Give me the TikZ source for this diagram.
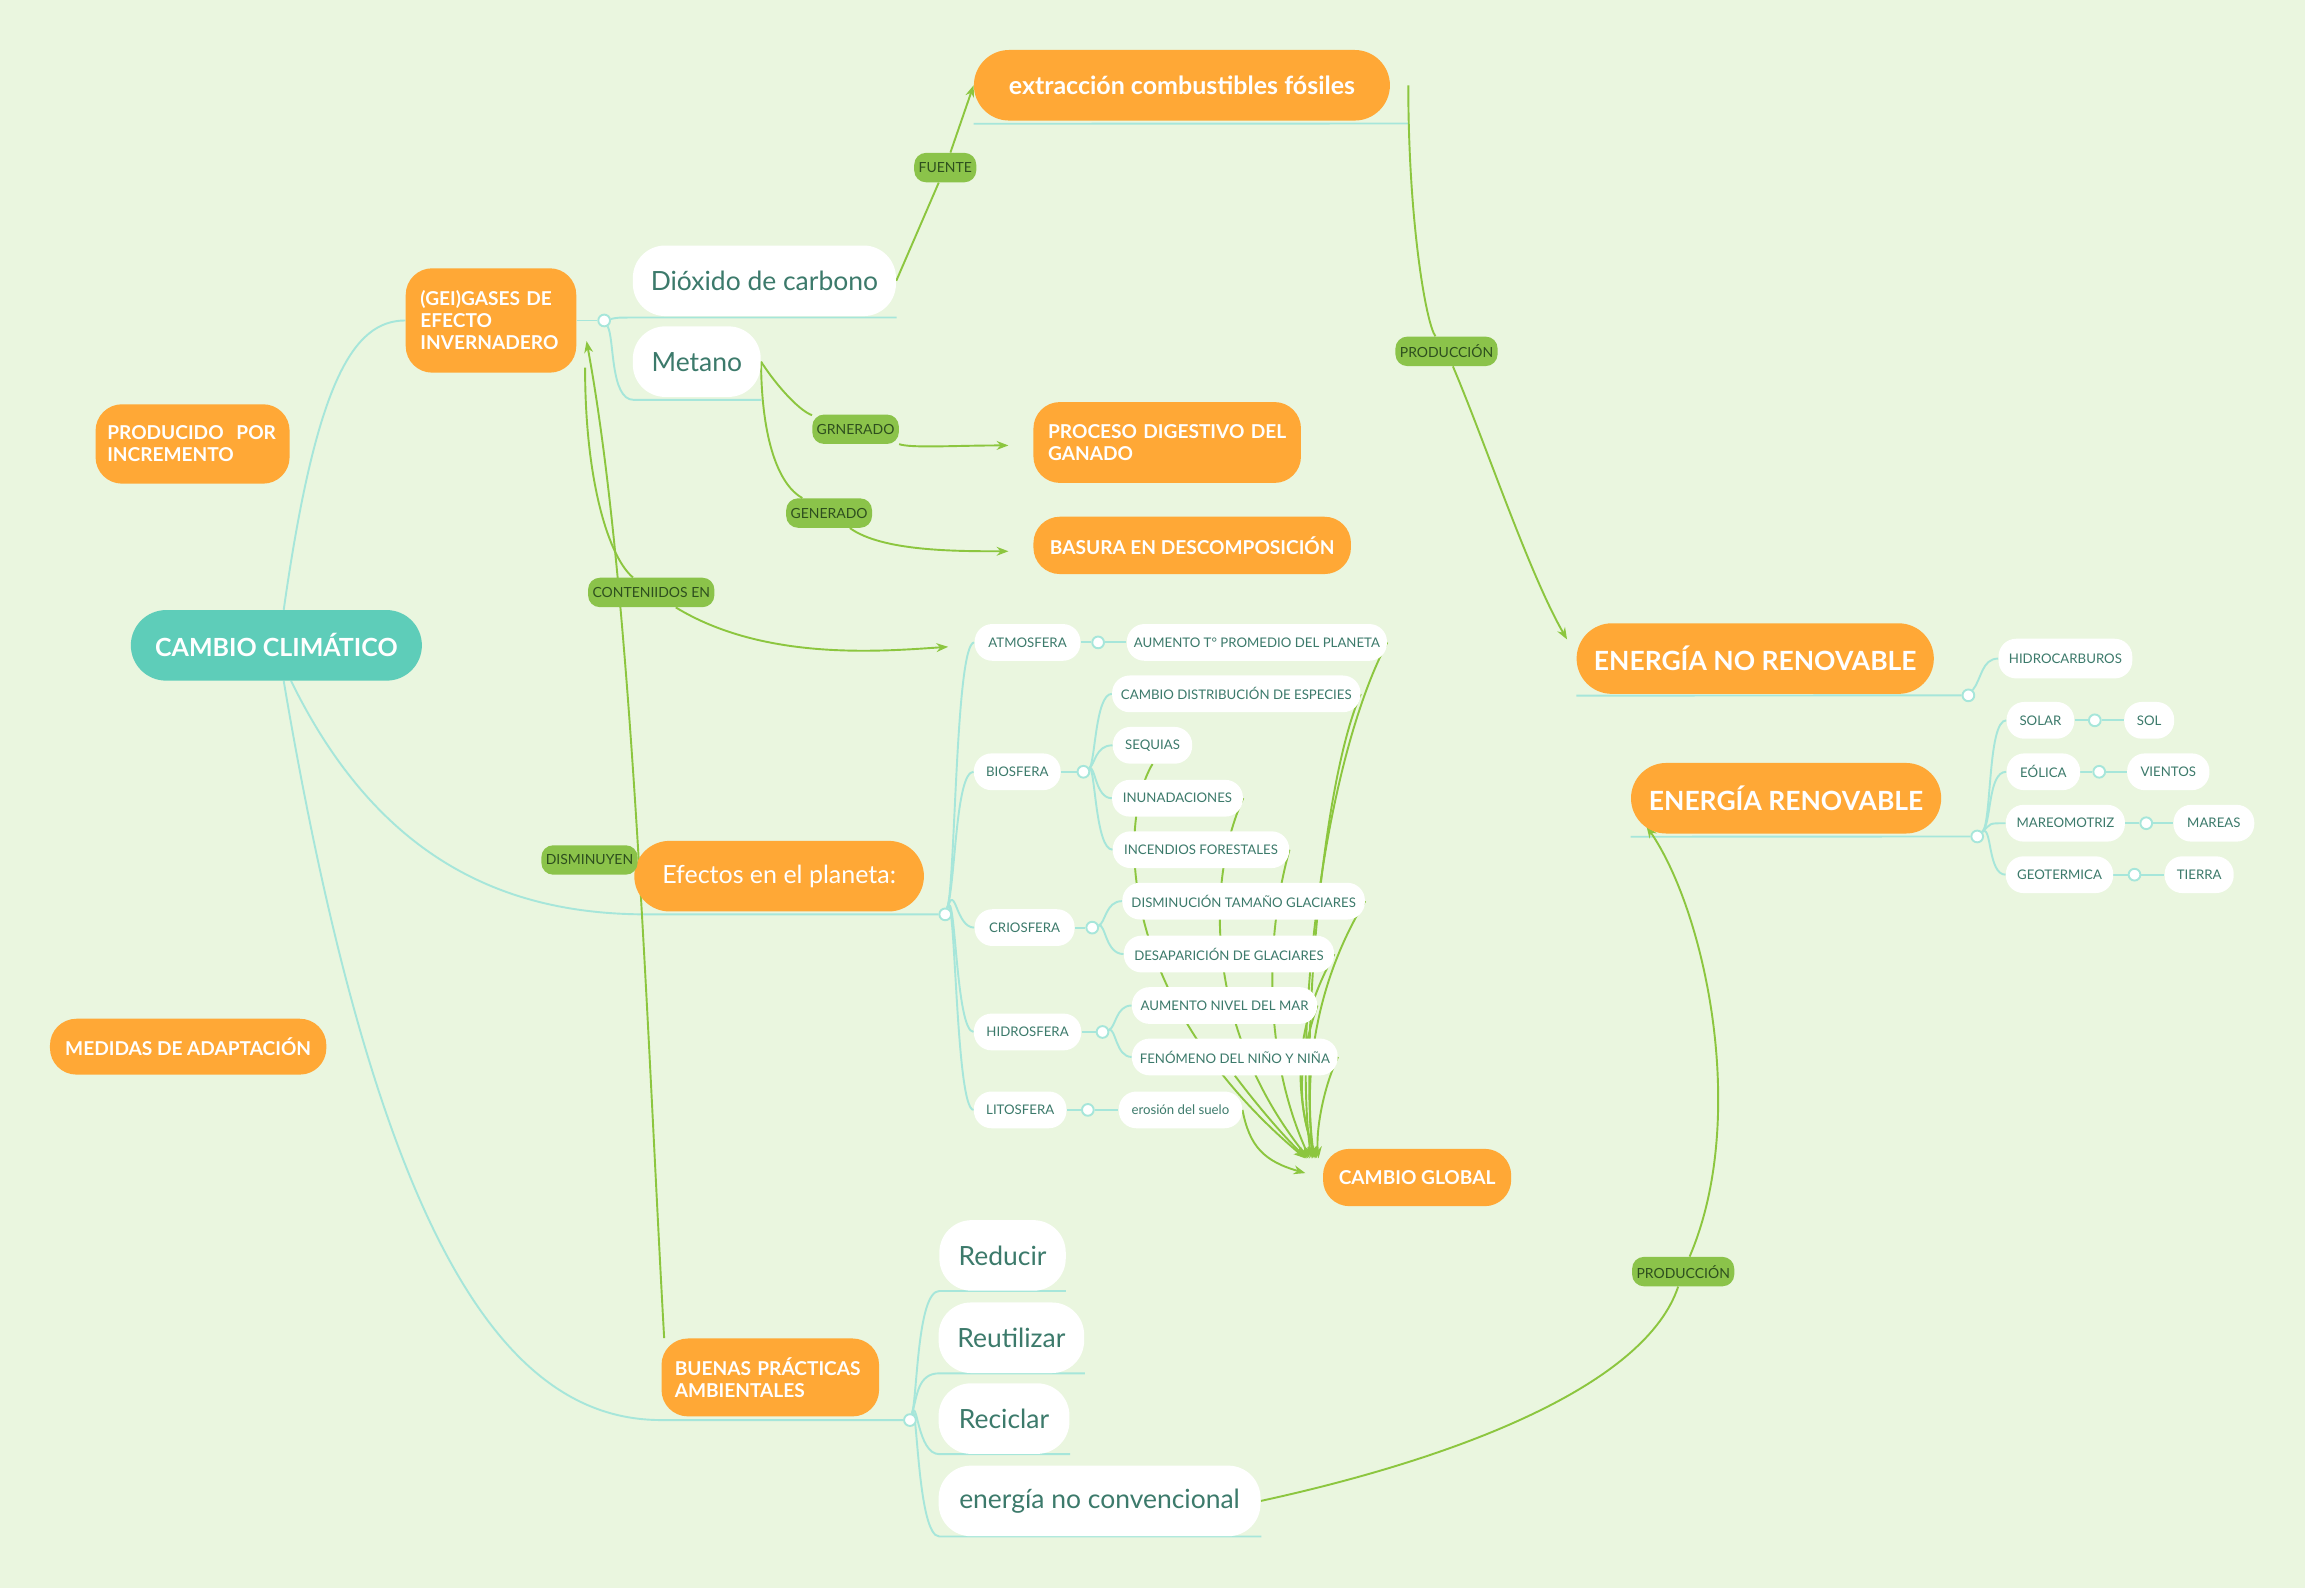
\documentclass[tikz,border=0pt]{standalone}
\usepackage{fontspec}
\setmainfont{Lato}
\usetikzlibrary{arrows.meta,backgrounds}
\definecolor{bgc}{HTML}{EAF6DF}
\definecolor{orng}{HTML}{FFA836}
\definecolor{tealc}{HTML}{5ECDB9}
\definecolor{lnc}{HTML}{A6E6DA}
\definecolor{grn}{HTML}{8CC63F}
\definecolor{lblc}{HTML}{8BC34A}
\definecolor{txc}{HTML}{3C7A6B}
\definecolor{lbt}{HTML}{2E4F1E}
\tikzset{
 onode/.style={fill=orng,text=white,font=\bfseries\fontsize{13}{15}\selectfont,rounded corners=18pt,inner sep=0pt,align=left},
 wnode/.style={fill=white,text=txc,font=\fontsize{18}{20}\selectfont,rounded corners=22pt,inner sep=0pt},
 snode/.style={fill=white,text=txc,font=\fontsize{9}{10}\selectfont,rounded corners=12pt,inner sep=0pt,minimum height=25pt},
 lbl/.style={fill=lblc,text=lbt,font=\fontsize{9.5}{10}\selectfont,rounded corners=8pt,inner sep=3pt,minimum height=20pt},
 tl/.style={draw=lnc,line width=1.3pt},
 jc/.style={draw=lnc,line width=1.3pt,fill=white,circle,inner sep=0pt,minimum size=8pt},
 ga/.style={draw=grn,line width=1.3pt,-{Stealth[length=8pt,width=6pt]}},
 gl/.style={draw=grn,line width=1.3pt},
}
\begin{document}
\begin{tikzpicture}[x=1pt,y=-1pt]
% main nodes
\node[fill=tealc,text=white,font=\bfseries\fontsize{17}{20}\selectfont,rounded corners=24pt,minimum width=198pt,minimum height=48pt] (cc) at (188,439) {CAMBIO CLIMÁTICO};
\node[onode,minimum width=132pt,minimum height=54pt,text width=116pt] (prod) at (131,302) {PRODUCIDO\ \ POR\\INCREMENTO};
\node[onode,minimum width=188pt,minimum height=38pt] (med) at (128,712) {MEDIDAS DE ADAPTACIÓN};
\node[onode,minimum width=116pt,minimum height=71pt,text width=96pt] (gei) at (334,218) {(GEI)GASES DE\\EFECTO\\INVERNADERO};
\node[wnode,minimum width=179pt,minimum height=48pt] (dio) at (520,191) {Dióxido de carbono};
\node[wnode,minimum width=87pt,minimum height=48pt] (met) at (474,246) {Metano};
\node[onode,font=\bfseries\fontsize{17}{20}\selectfont,rounded corners=24pt,minimum width=283pt,minimum height=48pt] (ext) at (804,58) {extracción combustibles fósiles};
\node[onode,minimum width=182pt,minimum height=55pt,text width=162pt] (pdg) at (794,301) {PROCESO DIGESTIVO DEL\\GANADO};
\node[onode,minimum width=216pt,minimum height=39pt] (bas) at (811,371) {BASURA EN DESCOMPOSICIÓN};
\node[onode,font=\bfseries\fontsize{18}{20}\selectfont,rounded corners=24pt,minimum width=243pt,minimum height=48pt] (enr) at (1194,448) {ENERGÍA NO RENOVABLE};
\node[onode,font=\bfseries\fontsize{18}{20}\selectfont,rounded corners=24pt,minimum width=211pt,minimum height=48pt] (er) at (1215,543) {ENERGÍA RENOVABLE};
\node[onode,font=\fontsize{17}{20}\selectfont,rounded corners=24pt,minimum width=197pt,minimum height=48pt] (ef) at (530,596) {Efectos en el planeta:};
\node[onode,minimum width=128pt,minimum height=39pt] (cg) at (964,801) {CAMBIO GLOBAL};
\node[onode,minimum width=148pt,minimum height=53pt,text width=130pt] (bp) at (524,937) {BUENAS PRÁCTICAS\\AMBIENTALES};
\node[wnode,minimum width=86pt,minimum height=48pt] (red) at (682,854) {Reducir};
\node[wnode,minimum width=99pt,minimum height=48pt] (reu) at (688,910) {Reutilizar};
\node[wnode,minimum width=89pt,minimum height=48pt] (rec) at (683,965) {Reciclar};
\node[wnode,minimum width=219pt,minimum height=48pt] (enc) at (748,1021) {energía no convencional};
% small nodes
\node[snode,minimum width=72pt] (atm) at (699,437) {ATMOSFERA};
\node[snode,minimum width=177pt] (aum) at (855,437) {AUMENTO T° PROMEDIO DEL PLANETA};
\node[snode,minimum width=59pt] (bio) at (692,525) {BIOSFERA};
\node[snode,minimum width=169pt] (cde) at (841,472) {CAMBIO DISTRIBUCIÓN DE ESPECIES};
\node[snode,minimum width=54pt] (seq) at (784,507) {SEQUIAS};
\node[snode,minimum width=89pt] (inu) at (801,543) {INUNADACIONES};
\node[snode,minimum width=120pt] (inc) at (817,578) {INCENDIOS FORESTALES};
\node[snode,minimum width=68pt] (cri) at (697,631) {CRIOSFERA};
\node[snode,minimum width=165pt] (dtg) at (846,613) {DISMINUCIÓN TAMAÑO GLACIARES};
\node[snode,minimum width=143pt] (dg) at (836,649) {DESAPARICIÓN DE GLACIARES};
\node[snode,minimum width=73pt] (hid) at (699,702) {HIDROSFERA};
\node[snode,minimum width=126pt] (anm) at (833,684) {AUMENTO NIVEL DEL MAR};
\node[snode,minimum width=140pt] (fen) at (840,719) {FENÓMENO DEL NIÑO Y NIÑA};
\node[snode,minimum width=63pt] (lit) at (694,755) {LITOSFERA};
\node[snode,minimum width=84pt] (ero) at (803,755) {erosión del suelo};
\node[snode,minimum width=91pt,minimum height=27pt] (hc) at (1405,448) {HIDROCARBUROS};
\node[snode,minimum width=46pt] (sol) at (1388,490) {SOLAR};
\node[snode,minimum width=34pt] (so) at (1462,490) {SOL};
\node[snode,minimum width=50pt] (eol) at (1390,525) {EÓLICA};
\node[snode,minimum width=56pt] (vie) at (1475,525) {VIENTOS};
\node[snode,minimum width=81pt] (mar) at (1405,560) {MAREOMOTRIZ};
\node[snode,minimum width=55pt] (mrs) at (1506,560) {MAREAS};
\node[snode,minimum width=73pt] (geo) at (1401,595) {GEOTERMICA};
\node[snode,minimum width=47pt] (tie) at (1496,595) {TIERRA};
% junctions
\node[jc] (jg) at (411,218) {};
\node[jc] (je) at (643,622) {};
\node[jc] (jb) at (619,966) {};
\node[jc] (ja) at (747,437) {};
\node[jc] (jbi) at (737,525) {};
\node[jc] (jcr) at (743,631) {};
\node[jc] (jh) at (750,702) {};
\node[jc] (jl) at (740,755) {};
\node[jc] (jnr) at (1339,473) {};
\node[jc] (jr) at (1345,569) {};
\node[jc] (j1) at (1425,490) {};
\node[jc] (j2) at (1428,525) {};
\node[jc] (j3) at (1460,560) {};
\node[jc] (j4) at (1452,595) {};
\coordinate (ce) at (440,622);
\coordinate (cb) at (450,966);
% labels
\node[lbl] (lf) at (643,114) {FUENTE};
\node[lbl] (lp1) at (984,239) {PRODUCCIÓN};
\node[lbl] (lgr) at (582,292) {GRNERADO};
\node[lbl] (lge) at (564,349) {GENERADO};
\node[lbl] (lco) at (443,403) {CONTENIIDOS EN};
\node[lbl] (ldi) at (401,585) {DISMINUYEN};
\node[lbl] (lp2) at (1145,865) {PRODUCCIÓN};
\begin{scope}[on background layer]
\fill[bgc] (0,0) rectangle (1568,1080);
\begin{scope}[tl]
\draw ([xshift=5pt]cc.north) .. controls (215,260) and (240,218) .. (gei.west);
\draw ([xshift=10pt]cc.south) .. controls (260,590) and (350,622) .. (ce) -- (je);
\draw ([xshift=5pt]cc.south) .. controls (260,860) and (350,966) .. (cb) -- (jb);
\draw (gei.east) -- (jg);
\draw (jg) .. controls (420,216) .. (431,216) -- (610,216);
\draw (jg) .. controls (418,230) and (415,272) .. (431,272) -- (518,272);
\draw ([yshift=-2pt]ext.south west) -- (958,84);
\draw ([yshift=-1pt]enr.south west) -- (jnr);
\draw (jnr) .. controls (1348,462) and (1348,448) .. (hc.west);
\draw ([yshift=-2pt]er.south west) -- (jr);
\foreach \n in {sol,eol,mar,geo} \draw (jr) .. controls (1355,560) and (1352,0 |- \n.west) .. (\n.west);
\draw (sol) -- (j1) -- (so); \draw (eol) -- (j2) -- (vie); \draw (mar) -- (j3) -- (mrs); \draw (geo) -- (j4) -- (tie);
\foreach \n in {atm,bio,cri,hid,lit} \draw (je) .. controls (650,600) and (650,0 |- \n.west) .. (\n.west);
\draw (atm) -- (ja) -- (aum);
\draw (bio) -- (jbi);
\foreach \n in {cde,seq,inu,inc} \draw (jbi) .. controls (745,520) and (745,0 |- \n.west) .. (\n.west);
\draw (cri) -- (jcr);
\foreach \n in {dtg,dg} \draw (jcr) .. controls (752,628) and (752,0 |- \n.west) .. (\n.west);
\draw (hid) -- (jh);
\foreach \n in {anm,fen} \draw (jh) .. controls (759,699) and (759,0 |- \n.west) .. (\n.west);
\draw (lit) -- (jl) -- (ero);
\foreach \n/\w in {red/725,reu/738,rec/728,enc/858} \draw (jb) .. controls (624,950) and (624,0 |- \n.south) .. (639,0 |- \n.south) -- (\w,0 |- \n.south);
\end{scope}
% green connectors
\draw[gl] (dio.east) -- (lf);
\draw[ga] (lf) -- (ext.west);
\draw[gl] (958,58) .. controls (958,150) and (970,220) .. (lp1);
\draw[ga] (lp1) .. controls (1010,300) and (1040,390) .. (1066,435);
\draw[gl] (met.east) .. controls (530,265) and (545,280) .. (lgr);
\draw[ga] (lgr) .. controls (620,305) and (650,303) .. (686,303);
\draw[gl] (met.east) .. controls (518,300) and (530,330) .. (lge);
\draw[ga] (lge) .. controls (600,375) and (650,375) .. (686,375);
\draw[gl] (398,250) .. controls (398,330) and (415,380) .. (lco);
\draw[ga] (lco) .. controls (520,450) and (600,443) .. (645,440);
\draw[gl] (ldi.east) -- (437,585);
\draw[ga] ([xshift=2pt]bp.north west) .. controls (440,700) and (430,400) .. (399,232);
\draw[gl] (enc.east) .. controls (1000,990) and (1120,940) .. (lp2);
\draw[ga] (lp2) .. controls (1190,760) and (1160,620) .. (1120,562);
\begin{scope}[every path/.style={ga}]
\draw (aum.east) .. controls (900,520) and (880,700) .. (892,788);
\draw (cde.east) .. controls (900,530) and (885,700) .. (893,788);
\draw (seq.south) .. controls (760,560) and (760,680) .. (888,788);
\draw (inu.east) .. controls (820,600) and (820,700) .. (890,788);
\draw (inc.east) .. controls (860,640) and (860,720) .. (891,788);
\draw (dtg.east) .. controls (900,660) and (885,720) .. (894,788);
\draw (dg.east) .. controls (880,700) and (880,740) .. (895,788);
\draw (anm.east) .. controls (880,730) and (885,760) .. (896,788);
\draw (fen.east) .. controls (900,740) and (895,770) .. (897,788);
\draw (fen.south) .. controls (850,745) and (870,770) .. (889,788);
\draw (ero.east) .. controls (850,780) and (860,790) .. (888,798);
\end{scope}
\end{scope}
\useasboundingbox (0,0) rectangle (1568,1080);
\end{tikzpicture}
\end{document}
